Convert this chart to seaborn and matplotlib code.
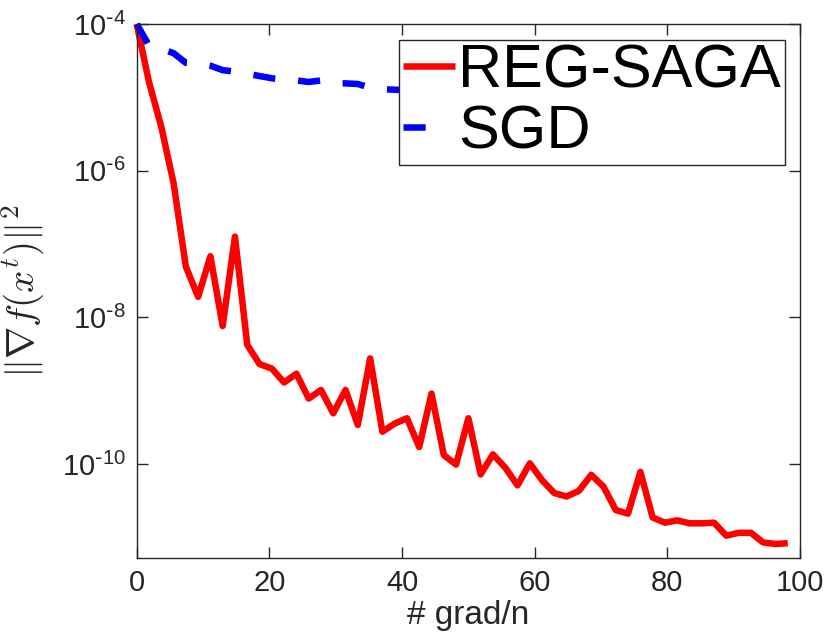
import matplotlib
matplotlib.use("Agg")
import math
import matplotlib.pyplot as plt
import matplotlib.ticker as mticker
import seaborn as sns
import pandas as pd

# ---- data ----
grad_n = [0.00, 1.85, 3.70, 5.56, 7.41, 9.26, 11.11, 12.96, 14.81, 16.67,
          18.52, 20.37, 22.22, 24.07, 25.93, 27.78, 29.63, 31.48, 33.33, 35.19,
          37.04, 38.89, 40.74, 42.59, 44.44, 46.30, 48.15, 50.00, 51.85, 53.70,
          55.56, 57.41, 59.26, 61.11, 62.96, 64.81, 66.67, 68.52, 70.37, 72.22,
          74.07, 75.93, 77.78, 79.63, 81.48, 83.33, 85.19, 87.04, 88.89, 90.74,
          92.59, 94.44, 96.30, 98.15]

reg_saga = [1.0e-4, 1.62e-5, 3.98e-6, 6.76e-7, 4.9e-8, 1.9e-8, 6.8e-8, 7.6e-9, 1.26e-7, 4.2e-9,
            2.3e-9, 2.0e-9, 1.29e-9, 1.7e-9, 7.8e-10, 1.02e-9, 4.9e-10, 1.02e-9, 3.4e-10, 2.75e-9,
            2.75e-10, 3.55e-10, 4.2e-10, 1.7e-10, 9.1e-10, 1.32e-10, 9.8e-11, 4.2e-10, 7.2e-11, 1.35e-10,
            8.9e-11, 5.1e-11, 1.02e-10, 6.0e-11, 4.0e-11, 3.6e-11, 4.3e-11, 7.1e-11, 4.9e-11, 2.35e-11,
            2.1e-11, 7.8e-11, 1.86e-11, 1.58e-11, 1.7e-11, 1.55e-11, 1.55e-11, 1.58e-11, 1.05e-11, 1.15e-11,
            1.15e-11, 8.5e-12, 8.1e-12, 8.3e-12]

sgd = [1.0e-4, 5.1e-5, 4.6e-5, 4.0e-5, 2.95e-5, 2.9e-5, 2.7e-5, 2.35e-5, 2.24e-5, 2.1e-5,
       1.95e-5, 1.82e-5, 1.74e-5, 1.7e-5, 1.62e-5, 1.7e-5, 1.55e-5, 1.55e-5, 1.52e-5, 1.35e-5,
       1.29e-5, 1.27e-5, 1.25e-5, 1.2e-5, 1.18e-5, 1.15e-5, 1.12e-5, 1.1e-5, 1.06e-5, 1.05e-5,
       1.02e-5, 9.8e-6, 9.7e-6, 9.4e-6, 9.1e-6, 9.0e-6, 8.7e-6, 8.5e-6, 8.4e-6, 8.1e-6,
       7.9e-6, 7.8e-6, 7.5e-6, 7.3e-6, 7.2e-6, 6.9e-6, 6.8e-6, 6.6e-6, 6.4e-6, 6.3e-6,
       6.0e-6, 5.9e-6, 5.7e-6, 5.5e-6]

methods = ["REG-SAGA", "SGD"]
x_ticks = [0, 20, 40, 60, 80, 100]
y_ticks = [1e-10, 1e-8, 1e-6, 1e-4]
x_label = "# grad/n"
y_label = r"$\|\nabla f(x^t)\|^2$"

df = pd.concat([
    pd.DataFrame({"grad_n": grad_n, "value": reg_saga, "method": methods[0]}),
    pd.DataFrame({"grad_n": grad_n, "value": sgd, "method": methods[1]}),
], ignore_index=True)

# ---- style ----
sns.set_theme(style="ticks")
gray = "#262626"
plt.rcParams.update({
    "font.family": ["Liberation Sans", "DejaVu Sans"],
    "axes.unicode_minus": False,
    "axes.edgecolor": gray,
    "axes.linewidth": 1.0,
    "xtick.color": gray,
    "ytick.color": gray,
    "xtick.labelcolor": gray,
    "ytick.labelcolor": gray,
})

fig = plt.figure(figsize=(8.3, 6.4), dpi=100)
ax = fig.add_axes([0.1647, 0.128, 0.7992, 0.8345])

sns.lineplot(data=df, x="grad_n", y="value", hue="method", style="method",
             palette={"REG-SAGA": "#ff0000", "SGD": "#0000ff"},
             dashes={"REG-SAGA": "", "SGD": (3.4, 3.5)},
             estimator=None, sort=False, linewidth=4.7, ax=ax, clip_on=False)
for ln in ax.get_lines():
    ln.set_dash_capstyle("butt")
    ln.set_solid_capstyle("butt")


def log_fmt(v, pos):
    e = int(round(math.log10(v)))
    sign = r"\text{-}" if e < 0 else ""
    return r"$\mathregular{10^{%s%d}}$" % (sign, abs(e))


ax.set_yscale("log")
ax.set_xlim(0, 100)
ax.set_ylim(5.2e-12, 1e-4)
ax.set_xticks(x_ticks)
ax.xaxis.set_major_formatter(mticker.FormatStrFormatter("%d"))
ax.yaxis.set_major_locator(mticker.FixedLocator(y_ticks))
ax.yaxis.set_major_formatter(mticker.FuncFormatter(log_fmt))
ax.yaxis.set_minor_locator(mticker.NullLocator())
ax.tick_params(axis="both", which="major", direction="in", length=8, width=1.0,
               top=True, right=True, labelsize=21, pad=8)

for s in ax.spines.values():
    s.set_visible(True)
    s.set_color(gray)

ax.set_xlabel(x_label, fontsize=24, color=gray, labelpad=2)
ax.set_ylabel(y_label, fontsize=28, color=gray, math_fontfamily="cm")
ax.yaxis.set_label_coords(-0.135, 0.5)

handles, labels = ax.get_legend_handles_labels()
leg = ax.legend(handles, labels, loc="upper right", bbox_to_anchor=(0.977, 0.970),
                borderaxespad=0, fontsize=44, frameon=True, fancybox=False,
                edgecolor=gray, framealpha=1, handlelength=0.85, handletextpad=0.06,
                borderpad=0.06, labelspacing=0.06, labelcolor="black")
leg.get_frame().set_linewidth(1.0)
leg.get_lines()[1].set_linestyle((0, (3.4, 10)))
leg.get_lines()[1].set_dash_capstyle("butt")
leg.get_lines()[0].set_solid_capstyle("butt")

fig.savefig("out.png", dpi=100, facecolor="white")
